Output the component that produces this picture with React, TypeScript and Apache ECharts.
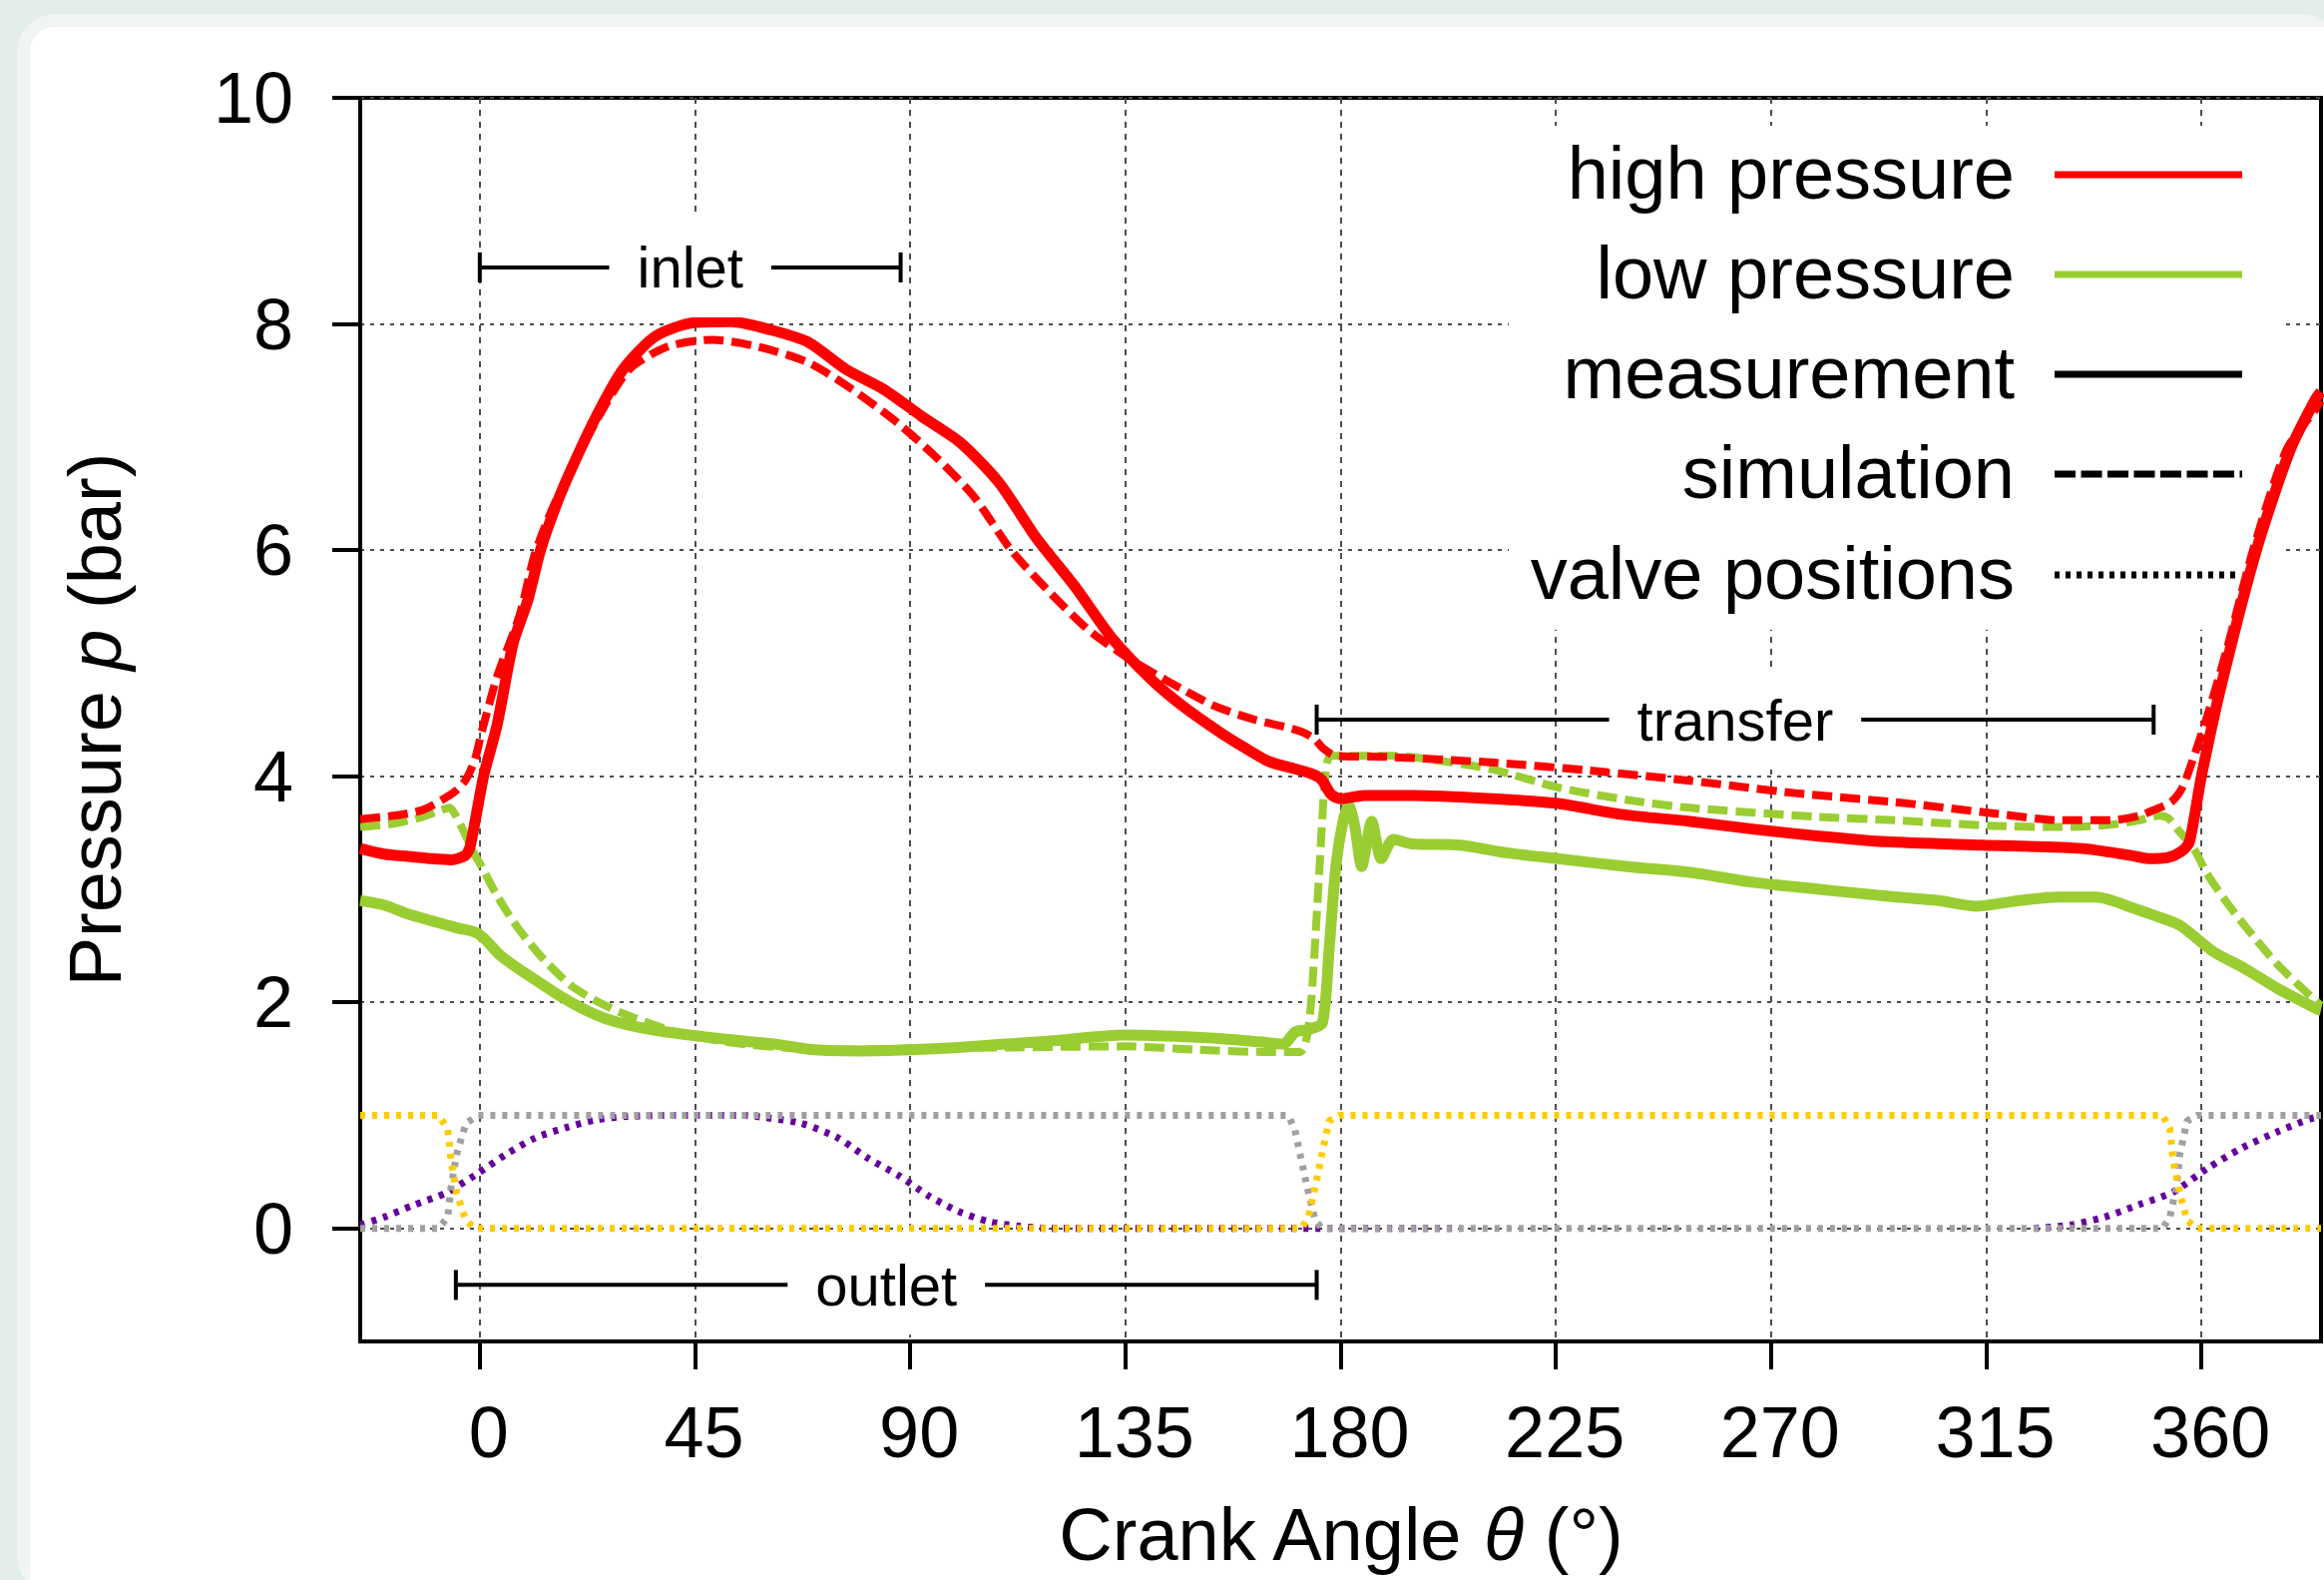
import React, { useEffect, useRef } from 'react';
import * as echarts from 'echarts';

// ---------- data (crank angle θ in degrees, pressure p in bar) ----------
const X_TICKS = [0, 45, 90, 135, 180, 225, 270, 315, 360];
const Y_TICKS = [0, 2, 4, 6, 8, 10];

const HIGH_MEAS: number[][] = [
  [-25, 3.36], [-20, 3.31], [-15, 3.29], [-10, 3.27], [-6, 3.26], [-3, 3.3], [-2, 3.38],
  [0.8, 4.0], [3.6, 4.45], [7, 5.18], [10, 5.55], [12.7, 6.0], [16, 6.4], [19.4, 6.74],
  [24.7, 7.21], [30, 7.6], [36.7, 7.89], [44.6, 8.01], [52.5, 8.02], [60.6, 7.95],
  [68.6, 7.84], [76.5, 7.6], [84.5, 7.42], [92.5, 7.18], [100.5, 6.95], [108.5, 6.6],
  [116.5, 6.1], [124.4, 5.68], [132.4, 5.21], [140.3, 4.86], [147, 4.62], [154.7, 4.39],
  [160, 4.25], [165, 4.13], [170, 4.07], [174, 4.02], [176, 3.97], [178, 3.84], [180, 3.8],
  [185, 3.83], [195, 3.83], [212, 3.8], [225, 3.76], [239, 3.66], [253, 3.6], [266.5, 3.53],
  [280, 3.47], [294, 3.42], [314, 3.39], [335, 3.36], [345, 3.3], [349, 3.27], [353, 3.28],
  [356, 3.34], [357.5, 3.42], [360, 4.0], [364.3, 4.83], [371.5, 6.0], [378.6, 6.89],
  [383.8, 7.33], [385, 7.4],
];

const HIGH_SIM: number[][] = [
  [-25, 3.62], [-18, 3.65], [-12, 3.7], [-7.5, 3.8], [-5, 3.87], [-2.9, 3.97], [-1, 4.15],
  [0.4, 4.39], [3.7, 4.89], [8.3, 5.42], [11.4, 5.95], [14.5, 6.3], [18, 6.62], [24.6, 7.16],
  [31.3, 7.6], [39.3, 7.8], [48.6, 7.86], [58, 7.8], [68.6, 7.66], [77.9, 7.42], [87.2, 7.13],
  [95.2, 6.83], [103.2, 6.48], [111.1, 6.0], [119.1, 5.63], [127.1, 5.3], [135, 5.06],
  [144.3, 4.83], [153.7, 4.62], [162, 4.5], [168, 4.44], [172, 4.39], [174.5, 4.33],
  [176.5, 4.24], [179, 4.18], [190, 4.17], [212, 4.12], [232, 4.05], [253, 3.96], [275, 3.85],
  [296, 3.77], [316.7, 3.67], [330.6, 3.61], [341, 3.61], [347, 3.65], [350, 3.7],
  [353.6, 3.77], [355.5, 3.86], [357, 4.0], [361.2, 4.53], [365.3, 5.12], [370.8, 6.0],
  [377.8, 6.89], [383.8, 7.24], [385, 7.32],
];

const LOW_MEAS: number[][] = [
  [-25, 2.9], [-20, 2.86], [-15, 2.78], [-10, 2.72], [-5, 2.66], [-1, 2.62], [1, 2.56],
  [4.4, 2.41], [8, 2.3], [12.3, 2.18], [17, 2.05], [21.7, 1.94], [26, 1.86], [31, 1.8],
  [37, 1.75], [44, 1.71], [52, 1.67], [61.6, 1.63], [70, 1.58], [80, 1.57], [90, 1.58],
  [100, 1.6], [110, 1.63], [120, 1.66], [134.7, 1.71], [145, 1.7], [154.7, 1.68], [163, 1.65],
  [168, 1.63], [170.6, 1.74], [173.5, 1.76], [176.2, 1.82], [177.6, 2.47], [179, 3.2],
  [180.5, 3.6], [181.7, 3.74], [183, 3.55], [184.4, 3.2], [186.5, 3.6], [188.5, 3.27],
  [191, 3.44], [195, 3.4], [205, 3.39], [215, 3.32], [225.4, 3.27], [240, 3.2], [253, 3.15],
  [266.5, 3.06], [280, 3.0], [294, 2.94], [305, 2.9], [313, 2.85], [322, 2.9], [330, 2.93],
  [338, 2.93], [346, 2.83], [350, 2.77], [355.5, 2.68], [362.4, 2.45], [369, 2.3],
  [376, 2.12], [384.2, 1.94], [385, 1.93],
];

const LOW_SIM: number[][] = [
  [-25, 3.55], [-18, 3.58], [-12, 3.64], [-8, 3.7], [-6.3, 3.72], [-5, 3.65], [-3, 3.48],
  [-1, 3.3], [0.4, 3.2], [3.5, 2.95], [7.1, 2.71], [10.5, 2.52], [13.8, 2.36], [19, 2.15],
  [24, 2.02], [30, 1.9], [40, 1.75], [50, 1.66], [60, 1.61], [75, 1.58], [90, 1.59],
  [110, 1.6], [135, 1.61], [150, 1.58], [165, 1.56], [171.5, 1.56], [173.5, 1.85],
  [175.6, 3.2], [176.8, 4.0], [178, 4.18], [191, 4.18], [200, 4.14], [211.8, 4.06],
  [225.4, 3.9], [240, 3.79], [253, 3.72], [280, 3.64], [296, 3.61], [316.7, 3.56],
  [330.6, 3.55], [341, 3.57], [347, 3.61], [351, 3.65], [353, 3.63], [355, 3.53],
  [358.4, 3.36], [361, 3.15], [365, 2.9], [369, 2.68], [376, 2.33], [384.2, 2.0], [385, 1.97],
];

const VALVE_GOLD: number[][] = [
  [-25, 1], [-8.6, 1], [-6.7, 0.88], [-6, 0.6], [-4.8, 0.31], [-2.9, 0.07], [-1, 0],
  [171.8, 0], [173.3, 0.1], [174.7, 0.37], [176.1, 0.66], [177.6, 0.95], [179.7, 1],
  [351.9, 1], [353.4, 0.88], [354.1, 0.6], [355.5, 0.31], [357, 0.07], [359.1, 0], [385, 0],
];

const VALVE_GREY: number[][] = [
  [-25, 0], [-8.6, 0], [-6.7, 0.1], [-6, 0.37], [-4.8, 0.66], [-2.9, 0.93], [-0.4, 1],
  [169, 1], [170.4, 0.88], [171.8, 0.6], [173.3, 0.31], [174.7, 0.07], [176.1, 0],
  [351.9, 0], [353.4, 0.1], [354.8, 0.37], [355.5, 0.66], [357, 0.95], [359.1, 1], [385, 1],
];

const VALVE_PURPLE_A: number[][] = [
  [-25, 0.03], [-20, 0.1], [-13.6, 0.21], [-7.3, 0.31], [-1, 0.47], [5.3, 0.65], [11.6, 0.8],
  [17.9, 0.89], [24.3, 0.96], [30.6, 0.99], [40, 1], [55, 1], [59.7, 0.98], [67.2, 0.93],
  [74.9, 0.8], [81.2, 0.62], [87.5, 0.47], [93.8, 0.29], [100.1, 0.15], [106.4, 0.06],
  [112.7, 0.02], [119, 0], [205, 0],
];
const VALVE_PURPLE_B: number[][] = [
  [325, 0], [332.6, 0.03], [339.7, 0.1], [346.9, 0.21], [354, 0.32], [361.2, 0.53],
  [368.4, 0.71], [375.6, 0.85], [382.8, 0.97], [385, 0.99],
];

const PHASE_LABELS = ['inlet', 'transfer', 'outlet'];
const PHASE_START = [0, 175, -5];
const PHASE_END = [88, 350, 175];
const PHASE_LEVEL = [8.5, 4.5, -0.5];

const LEGEND_LABELS = ['high pressure', 'low pressure', 'measurement', 'simulation', 'valve positions'];

// ---------- styles ----------
const FONT = "'Liberation Sans', Arial, Helvetica, sans-serif";
const RED = '#ff0000';
const GREEN = '#9acd32';
const GOLD = '#ffcc00';
const GREY = '#a0a0a0';
const PURPLE = '#66009e';
const DASH = [20, 8];
const DOT = [5, 7];
const W = 2329;
const H = 1583;

function line(name: string, data: number[][], color: string, width: number, type: any, z: number, smooth: number) {
  return {
    type: 'line',
    name,
    data,
    symbol: 'none',
    showSymbol: false,
    silent: true,
    z,
    smooth,
    lineStyle: { color, width, type, cap: 'butt', join: 'round' },
  };
}

function buildOption() {
  const legendRows = [175, 275, 375, 475, 576];
  const legendStyles = [
    { stroke: RED, lineDash: null as any },
    { stroke: GREEN, lineDash: null as any },
    { stroke: '#000', lineDash: null as any },
    { stroke: '#000', lineDash: [21, 5.5] },
    { stroke: '#000', lineDash: [5, 6] },
  ];
  const graphic: any[] = [
    { type: 'rect', z: 1, silent: true, shape: { x: 1512, y: 126, width: 775, height: 505 }, style: { fill: '#fff' } },
  ];
  LEGEND_LABELS.forEach((t, i) => {
    graphic.push({
      type: 'text', z: 10, x: 2019, y: legendRows[i] - 2,
      style: { text: t, fontSize: 74, fontFamily: FONT, fill: '#000', align: 'right', verticalAlign: 'middle' },
    });
    graphic.push({
      type: 'line', z: 10,
      shape: { x1: 2059, y1: legendRows[i], x2: i === 4 ? 2242 : 2247, y2: legendRows[i] },
      style: { stroke: legendStyles[i].stroke, lineWidth: 7, lineDash: legendStyles[i].lineDash, lineCap: 'butt' },
    });
  });
  graphic.push({
    type: 'text', z: 10, x: 1343, y: 1537,
    style: {
      text: '{n|Crank Angle }{i|θ}{n| (°)}',
      align: 'center', verticalAlign: 'middle', fontSize: 74, fontFamily: FONT, fill: '#000',
      rich: {
        n: { fontSize: 74, fontFamily: FONT, fill: '#000' },
        i: { fontSize: 74, fontFamily: FONT, fill: '#000', fontStyle: 'italic' },
      },
    },
  });
  graphic.push({
    type: 'text', z: 10, x: 95, y: 721, rotation: Math.PI / 2,
    style: {
      text: '{n|Pressure }{i|p}{n| (bar)}',
      align: 'center', verticalAlign: 'middle', fontSize: 74, fontFamily: FONT, fill: '#000',
      rich: {
        n: { fontSize: 74, fontFamily: FONT, fill: '#000' },
        i: { fontSize: 74, fontFamily: FONT, fill: '#000', fontStyle: 'italic' },
      },
    },
  });

  const phaseData = PHASE_LABELS.map((_, i) => [PHASE_START[i], PHASE_END[i], PHASE_LEVEL[i]]);

  return {
    animation: false,
    backgroundColor: 'transparent',
    textStyle: { fontFamily: FONT },
    grid: {
      left: 361, top: 98, width: 1965, height: 1246,
      show: true, borderColor: '#000', borderWidth: 4, backgroundColor: 'transparent',
      containLabel: false, outerBoundsMode: 'none',
    },
    xAxis: {
      type: 'value', min: -25, max: 385,
      axisLine: { show: true, onZero: false, lineStyle: { color: '#000', width: 4 } },
      axisTick: { show: true, inside: false, length: 28, customValues: X_TICKS, lineStyle: { color: '#000', width: 4 } },
      axisLabel: {
        customValues: X_TICKS, fontSize: 72, lineHeight: 72, color: '#000', fontFamily: FONT,
        margin: 55, padding: [0, 0, 0, 18],
      },
      splitLine: { show: true, lineStyle: { color: '#4d4d4d', width: 2, type: [6, 6] } },
    },
    yAxis: {
      type: 'value', min: -1, max: 10,
      axisLine: { show: true, onZero: false, lineStyle: { color: '#000', width: 4 } },
      axisTick: { show: true, inside: false, length: 28, customValues: Y_TICKS, lineStyle: { color: '#000', width: 4 } },
      axisLabel: { customValues: Y_TICKS, fontSize: 72, color: '#000', fontFamily: FONT, margin: 67 },
      splitLine: { show: true, lineStyle: { color: '#4d4d4d', width: 2, type: [4, 6] } },
    },
    graphic,
    series: [
      line('valve purple a', VALVE_PURPLE_A, PURPLE, 7, DOT, 2, 0.25),
      line('valve purple b', VALVE_PURPLE_B, PURPLE, 7, DOT, 2, 0.25),
      line('valve grey', VALVE_GREY, GREY, 7, DOT, 2, 0),
      line('valve gold', VALVE_GOLD, GOLD, 7, DOT, 2, 0),
      line('low pressure measurement', LOW_MEAS, GREEN, 11, 'solid', 3, 0.25),
      line('low pressure simulation', LOW_SIM, GREEN, 8, DASH, 3, 0.25),
      line('high pressure measurement', HIGH_MEAS, RED, 11, 'solid', 3, 0.25),
      line('high pressure simulation', HIGH_SIM, RED, 8, DASH, 3, 0.25),
      {
        type: 'custom',
        name: 'phases',
        silent: true,
        z: 5,
        encode: { x: [0, 1], y: 2 },
        data: phaseData,
        renderItem: (params: any, api: any) => {
          const a = api.coord([api.value(0), api.value(2)]);
          const b = api.coord([api.value(1), api.value(2)]);
          const st = { stroke: '#000', lineWidth: 4 };
          return {
            type: 'group',
            children: [
              { type: 'line', shape: { x1: a[0], y1: a[1], x2: b[0], y2: b[1] }, style: st },
              { type: 'line', shape: { x1: a[0], y1: a[1] - 15, x2: a[0], y2: a[1] + 15 }, style: st },
              { type: 'line', shape: { x1: b[0], y1: b[1] - 15, x2: b[0], y2: b[1] + 15 }, style: st },
              {
                type: 'text', x: (a[0] + b[0]) / 2, y: a[1],
                style: {
                  text: PHASE_LABELS[params.dataIndex], fontSize: 58, fontFamily: FONT, fill: '#000',
                  backgroundColor: '#fff', padding: [22, 28, 20, 28], align: 'center', verticalAlign: 'middle',
                },
              },
            ],
          };
        },
      },
    ],
  };
}

export default function App() {
  const ref = useRef<HTMLDivElement>(null);
  useEffect(() => {
    document.body.style.margin = '0';
    const chart = echarts.init(ref.current as HTMLDivElement, undefined, { renderer: 'svg', width: W, height: H });
    chart.setOption(buildOption() as any);
    return () => chart.dispose();
  }, []);
  return (
    <div style={{ position: 'fixed', left: 0, top: 0, width: W, height: H, overflow: 'hidden', background: '#e4eee8' }}>
      <div style={{ position: 'absolute', left: 17, top: 14, width: W, height: H, background: '#f0f5f2', borderRadius: 38 }} />
      <div style={{ position: 'absolute', left: 30, top: 27, width: W, height: H, background: '#ffffff', borderRadius: 24 }} />
      <div ref={ref} style={{ position: 'absolute', left: 0, top: 0, width: W, height: H }} />
    </div>
  );
}
